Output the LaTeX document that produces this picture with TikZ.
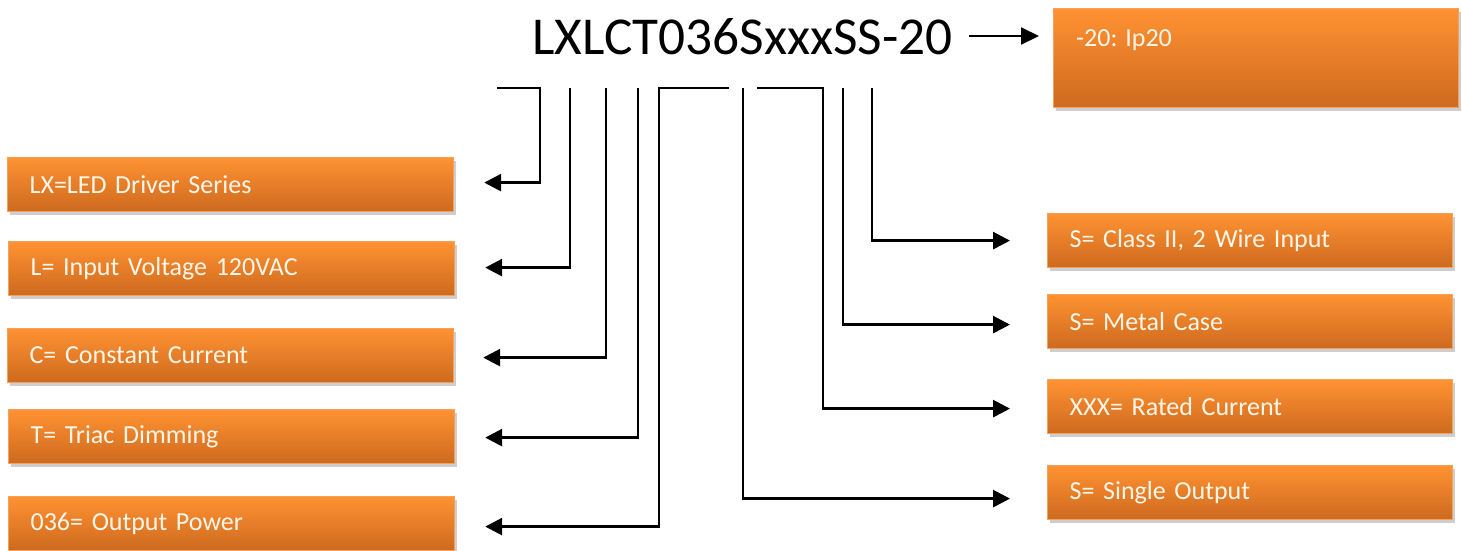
\documentclass[tikz,border=0pt]{standalone}
\usepackage{fontspec}
\setmainfont{Carlito}
\usetikzlibrary{arrows.meta,shadows}
\definecolor{otop}{HTML}{FF9232}
\definecolor{obot}{HTML}{CD6A1F}
\definecolor{oedge}{HTML}{F7A05A}
\definecolor{otext}{HTML}{FFF6EA}
\tikzset{
  obox/.style={rectangle, draw=oedge, line width=1.2pt, top color=otop, bottom color=obot,
    drop shadow={shadow xshift=2pt, shadow yshift=-3pt, opacity=0.35, fill=black!55},
    anchor=north west, inner xsep=22pt, inner ysep=0pt, align=left,
    font=\fontsize{26}{30}\selectfont, text=otext},
  lbox/.style={obox, minimum width=446pt, minimum height=54pt, text width=402pt},
  rbox/.style={obox, minimum width=405pt, minimum height=54pt, text width=361pt},
  conn/.style={line width=2.8pt, line cap=butt, -{Triangle[length=17pt,width=17pt]}},
  tarrow/.style={line width=2pt, -{Triangle[length=18pt,width=17pt]}}
}
\begin{document}
\begin{tikzpicture}[x=1pt,y=-1pt]
\useasboundingbox (0,0) rectangle (1462,550);
% title
\node[anchor=base west, inner sep=0pt, font=\fontsize{53.3}{60}\selectfont] (title) at (532,54) {LXLCT036SxxxSS-20};
% top right box
\node[obox, minimum width=405pt, minimum height=99pt, text width=361pt] (r0) at (1053,8) {};
\node[anchor=base west, inner sep=0pt, font=\fontsize{26}{30}\selectfont, text=otext] (r0t) at (1076,46) {-20: Ip20};
% left boxes
\node[lbox] (l1) at (7,157) {LX=LED Driver Series};
\node[lbox] (l2) at (8,241) {L= Input Voltage 120VAC};
\node[lbox] (l3) at (7,328) {C= Constant Current};
\node[lbox] (l4) at (8,409) {T= Triac Dimming};
\node[lbox] (l5) at (8,496) {036= Output Power};
% right boxes
\node[rbox] (r1) at (1047,213) {S= Class II, 2 Wire Input};
\node[rbox] (r2) at (1047,294) {S= Metal Case};
\node[rbox] (r3) at (1047,379) {XXX= Rated Current};
\node[rbox] (r4) at (1047,465) {S= Single Output};
% connector start points
\coordinate (s1) at (497,88); \coordinate (t1) at (540,88);
\coordinate (t2) at (570,88);
\coordinate (t3) at (606,88);
\coordinate (t4) at (638,88);
\coordinate (s5) at (729,88); \coordinate (t5) at (659,88);
\coordinate (t6) at (743,88);
\coordinate (s7) at (757,88); \coordinate (t7) at (823,88);
\coordinate (t8) at (843,88);
\coordinate (t9) at (872,88);
\coordinate (ta) at (969,36);
% connectors
\draw[conn, shorten >=30pt] (s1) -- (t1) |- ([yshift=2pt]l1.east);
\draw[conn, shorten >=30pt] (t2) |- ([yshift=1pt]l2.east);
\draw[conn, shorten >=29pt] (t3) |- ([yshift=-2pt]l3.east);
\draw[conn, shorten >=30pt] (t4) |- ([yshift=-1pt]l4.east);
\draw[conn, shorten >=30pt] (s5) -- (t5) |- ([yshift=-3pt]l5.east);
\draw[conn, shorten >=37pt] (t6) |- ([yshift=-6pt]r4.west);
\draw[conn, shorten >=37pt] (s7) -- (t7) |- ([yshift=-2pt]r3.west);
\draw[conn, shorten >=37pt] (t8) |- ([yshift=-3pt]r2.west);
\draw[conn, shorten >=37pt] (t9) |- (r1.west);
\draw[tarrow, shorten >=14pt] (ta) -- (ta -| r0.west);
\end{tikzpicture}
\end{document}
